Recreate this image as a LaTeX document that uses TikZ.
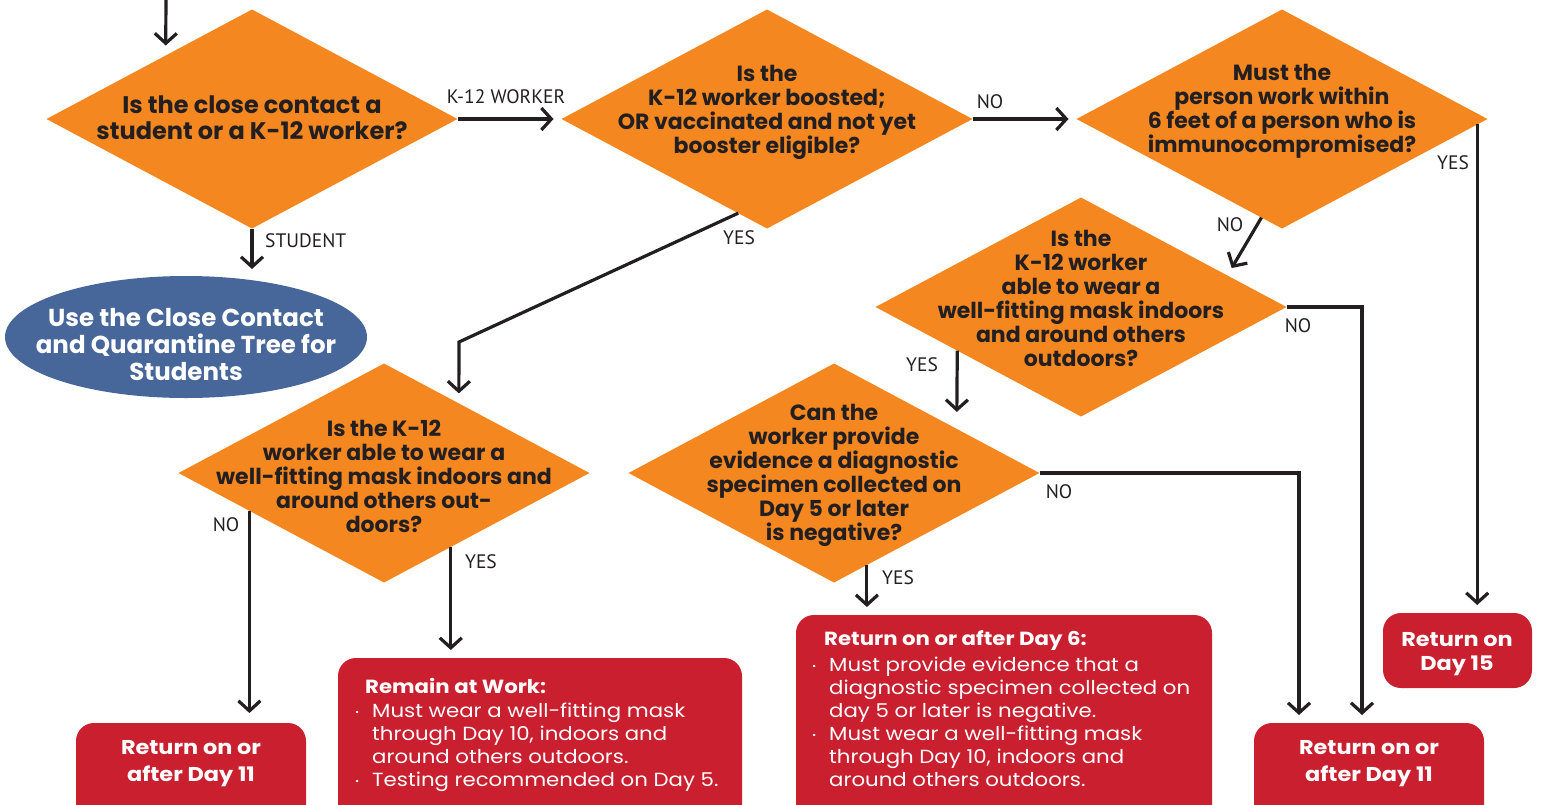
\documentclass[tikz,border=0pt]{standalone}
\usepackage{fontspec}
\setmainfont{Poppins}
\newfontfamily\sfam[FakeStretch=1.12]{Poppins}
\newfontfamily\labfont{PT Sans}
\usetikzlibrary{shapes.geometric,arrows.meta,calc}
\definecolor{org}{HTML}{F48720}
\definecolor{rd}{HTML}{C91F2E}
\definecolor{bl}{HTML}{47669A}
\definecolor{ink}{HTML}{231F20}
\newcommand{\tb}{\makebox[17pt][l]{\raisebox{0.25ex}{\fontsize{9}{9}\selectfont\textbullet}}}
\newcommand{\ind}{\hspace*{17pt}}
\begin{document}
\begin{tikzpicture}[x=1pt,y=-1pt,
  dia/.style={diamond, fill=org, draw=none, inner sep=0pt, outer sep=0pt, minimum width=411pt, minimum height=219pt},
  dtext/.style={font=\fontsize{22}{24}\selectfont\bfseries, text=ink, align=center, inner sep=0pt},
  arr/.style={draw=ink, line width=3.2pt, -{Straight Barb[length=10pt,width=22pt]}},
  lab/.style={font=\labfont\fontsize{19.5}{21}\selectfont, text=ink, inner sep=0pt},
  rbox/.style={fill=rd, draw=none, rounded corners=18pt, inner sep=0pt, outer sep=0pt, anchor=north west},
  rt/.style={font=\sfam\fontsize{20}{27}\selectfont\bfseries, text=white, align=center, inner sep=0pt},
  bt/.style={font=\sfam\fontsize{19}{23}\selectfont, text=white, align=left, inner sep=0pt, anchor=north west}]
\useasboundingbox (0,0) rectangle (1546,804);
\clip (0,0) rectangle (1546,804);

% decision diamonds
\node[dia] (d1) at (252,119) {};
\node[dia] (d2) at (767,119) {};
\node[dia] (d3) at (1282,119) {};
\node[dia] (d4) at (1081,307) {};
\node[dia] (d5) at (384,473) {};
\node[dia] (d6) at (834,473) {};

% student ellipse
\node[ellipse, fill=bl, draw=none, inner sep=0pt, outer sep=0pt, minimum width=362pt, minimum height=122pt] (ell) at (186,337) {};

% result boxes
\node[rbox, minimum width=230pt, minimum height=100pt] (r1) at (76,723) {};
\node[rbox, minimum width=404pt, minimum height=170pt] (r2) at (338,658) {};
\node[rbox, minimum width=416pt, minimum height=210pt] (r3) at (796,615) {};
\node[rbox, minimum width=230pt, minimum height=100pt] (r4) at (1254,723) {};
\node[rbox, minimum width=149pt, minimum height=75pt] (r5) at (1383,613) {};

% connectors
\coordinate (top) at (166,-5);
\draw[arr, shorten >=10pt] (top) -- ($(d1.west)!0.58!(d1.north)$);
\draw[arr, shorten >=8pt] (d1.east) -- (d2.west);
\draw[arr, shorten >=7pt] (d1.south) -- (d1.south |- ell.north);
\draw[arr, shorten >=8pt] (d2.east) -- (d3.west);
\coordinate (b1) at (459,342);
\draw[arr, shorten >=10pt] ($(d2.west)!0.86!(d2.south)$) -- (b1) -- ($(d5.north)!0.364!(d5.east)$);
\draw[arr, shorten >=8.6pt] ($(d3.west)!0.9!(d3.south)$) -- ($(d4.north)!0.712!(d4.east)$);
\coordinate (d3y) at ($(d3.east)!0.05!(d3.south)$);
\draw[arr, shorten >=8pt] (d3y) -- (d3y |- r5.north);
\coordinate (c4) at (1362,0);
\draw[arr, shorten >=8pt] (d4.east) -| (c4 |- r4.north);
\coordinate (d4y) at ($(d4.west)!0.398!(d4.south)$);
\draw[arr, shorten >=17pt] (d4y) -- ($(d6.north)!0.597!(d6.east)$);
\coordinate (d5n) at ($(d5.west)!0.345!(d5.south)$);
\draw[arr, shorten >=10pt] (d5n) -- (d5n |- r1.north);
\coordinate (d5y) at ($(d5.east)!0.675!(d5.south)$);
\draw[arr, shorten >=8pt] (d5y) -- (d5y |- r2.north);
\coordinate (c6) at (1299,0);
\draw[arr, shorten >=8pt] (d6.east) -| (c6 |- r4.north);
\coordinate (d6y) at ($(d6.east)!0.84!(d6.south)$);
\draw[arr, shorten >=8pt] (d6y) -- (d6y |- r3.north);

% diamond texts
\node[dtext, font=\fontsize{24}{26}\selectfont\bfseries] (q1) at (252,117.5) {Is the close contact a\\student or a K-12 worker?};
\node[dtext] (q2) at (767,112) {Is the\\K-12 worker boosted;\\OR vaccinated and not yet\\booster eligible?};
\node[dtext] (q3) at (1282,111.5) {Must the\\person work within\\6 feet of a person who is\\immunocompromised?};
\node[dtext] (q4) at (1081,298) {Is the\\K-12 worker\\able to wear a\\well-fitting mask indoors\\and around others\\outdoors?};
\node[dtext] (q5) at (384,476) {Is the K-12\\worker able to wear a\\well-fitting mask indoors and\\around others out-\\doors?};
\node[dtext] (q6) at (834,475) {Can the\\worker provide\\evidence a diagnostic\\specimen collected on\\Day 5 or later\\is negative?};

% ellipse text
\node[font=\fontsize{24.5}{27}\selectfont\bfseries, text=white, align=center, inner sep=0pt] (et) at (186,345) {Use the Close Contact\\and Quarantine Tree for\\Students};

% box texts
\node[rt] (t1) at (191,764) {Return on or\\after Day 11};
\node[rt] (t4) at (1369,764) {Return on or\\after Day 11};
\node[rt, font=\sfam\fontsize{20}{24}\selectfont\bfseries] (t5) at (1457,654) {Return on\\Day 15};
\node[bt] (t2) at (355,678) {\hspace*{10pt}\textbf{Remain at Work:}\\[1.5pt]
\tb Must wear a well-fitting mask\\
\ind through Day 10, indoors and\\
\ind around others outdoors.\\
\tb Testing recommended on Day 5.};
\node[bt] (t3) at (812,630) {\hspace*{12pt}\textbf{Return on or after Day 6:}\\[3.5pt]
\tb Must provide evidence that a\\
\ind diagnostic specimen collected on\\
\ind day 5 or later is negative.\\
\tb Must wear a well-fitting mask\\
\ind through Day 10, indoors and\\
\ind around others outdoors.};

% connector labels
\node[lab] (l1) at (506,97) {K-12 WORKER};
\node[lab, anchor=west] (l2) at (265,241) {STUDENT};
\node[lab] (l3) at (990,102) {NO};
\node[lab] (l4) at (739,238) {YES};
\node[lab] (l5) at (1453,163) {YES};
\node[lab] (l6) at (1230,225) {NO};
\node[lab] (l7) at (1298,326) {NO};
\node[lab] (l8) at (922,365) {YES};
\node[lab] (l9) at (226,525) {NO};
\node[lab] (l10) at (481,562) {YES};
\node[lab] (l11) at (1059,492) {NO};
\node[lab] (l12) at (898,578) {YES};
\end{tikzpicture}
\end{document}
